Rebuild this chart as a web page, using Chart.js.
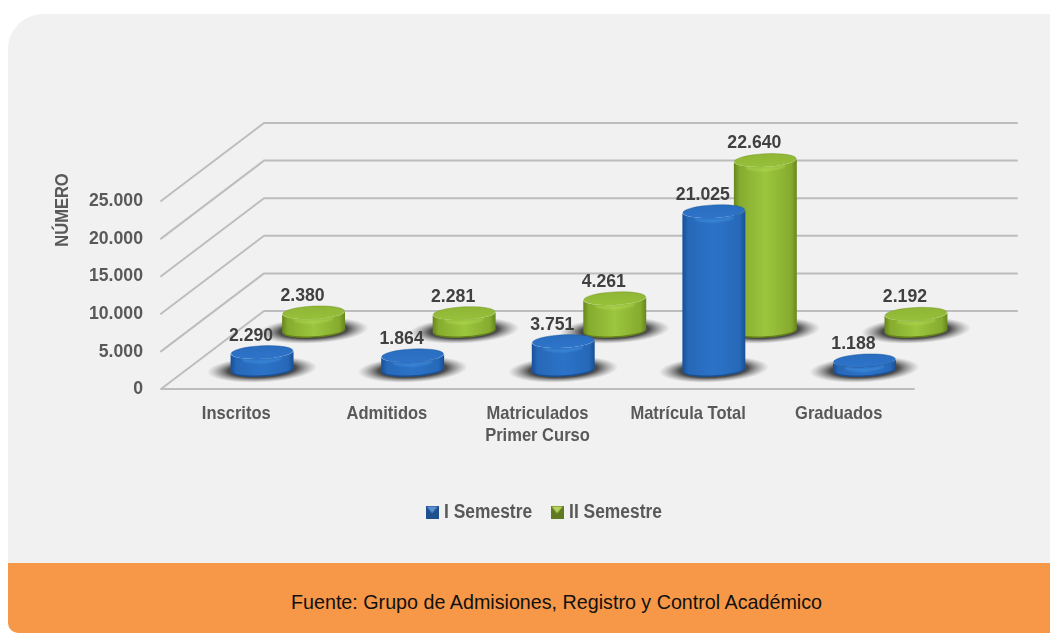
<!DOCTYPE html>
<html lang="es">
<head>
<meta charset="utf-8">
<title>Inscritos, admitidos y matriculados</title>
<script src="https://cdn.jsdelivr.net/npm/chart.js@4"></script>
<style>
html,body{margin:0;padding:0;background:#fff;width:1050px;height:633px;overflow:hidden}
#panel{position:absolute;left:8px;top:14px;width:1042px;height:549px;background:#f1f1f1;border-top-left-radius:35px}
#foot{position:absolute;left:8px;top:563px;width:1042px;height:70px;background:#f79848;border-bottom-left-radius:10px;
 font:21px "Liberation Sans",sans-serif;color:#111;}
#foot span{position:absolute;left:283px;top:27px;white-space:nowrap;transform:scaleX(.938);transform-origin:left center}
#wrap{position:absolute;left:0;top:0;width:1050px;height:633px}
</style>
</head>
<body>
<div id="panel"></div>
<div id="foot"><span>Fuente: Grupo de Admisiones, Registro y Control Académico</span></div>
<div id="wrap"><canvas id="c" width="1050" height="633"></canvas></div>
<script>
const categories = ["Inscritos", "Admitidos", ["Matriculados", "Primer Curso"], "Matrícula Total", "Graduados"];
const seriesNames = ["I Semestre", "II Semestre"];
const semesterI  = [2290, 1864, 3751, 21025, 1188];
const semesterII = [2380, 2281, 4261, 22640, 2192];
const yAxisTitle = "NÚMERO";
const yMax = 25000, yStep = 5000;

const FONT = '"Liberation Sans",sans-serif';
const TEXT = '#595959', LABEL = '#404040';
const DEPTH_X = 103, DEPTH_Y = 78;
const seriesDepth = [0.25, 0.75];
const RX = 31.5, RY = 6.5, TILT = -0.05;
const palettes = [
  {edge:'#174f96', side:'#2768b8', mid:'#2b73c8', top:'#2a6dbf', front:'#2d74ca', rim:'rgba(27,85,153,.6)', hi:'rgba(80,160,235,.5)', low:'#1a4f92', legend:['#5b8fd0','#1f4f8c']},
  {edge:'#66861c', side:'#86ab2e', mid:'#9cc63e', top:'#8fb636', front:'#97c03a', rim:'rgba(111,144,32,.6)', hi:'rgba(190,225,95,.5)', low:'#648019', legend:['#b5d35c','#5f7a22']}
];
const fmt = v => String(v).replace(/\B(?=(\d{3})+$)/g, '.');

function legendIcon(p){
  const s = 13, cv = document.createElement('canvas');
  cv.width = s; cv.height = s;
  const g = cv.getContext('2d');
  g.fillStyle = p.legend[1]; g.fillRect(0,0,s,s);
  g.fillStyle = p.legend[0];
  g.beginPath(); g.moveTo(1,1); g.lineTo(s-1,1); g.lineTo(s/2,s*0.6); g.closePath(); g.fill();
  return cv;
}
const icons = palettes.map(legendIcon);

// The reference uses a condensed face: narrow the installed sans horizontally.
const canvas = document.getElementById('c');
const c2d = canvas.getContext('2d');
const narrow = t => /^[\d.]+$/.test(t) ? 0.93 : 0.87;
const rawFill = c2d.fillText.bind(c2d), rawMeasure = c2d.measureText.bind(c2d);
c2d.fillText = function(t, x, y){
  c2d.save(); c2d.translate(x, y); c2d.scale(narrow(String(t)), 1);
  rawFill(t, 0, 0); c2d.restore();
};
c2d.measureText = function(t){
  const m = rawMeasure(t);
  return {width: m.width * narrow(String(t)), actualBoundingBoxAscent: m.actualBoundingBoxAscent, actualBoundingBoxDescent: m.actualBoundingBoxDescent};
};

const scenePlugin = {
  id:'scene',
  afterLayout(chart){
    const l = chart.legend, w = l.right - l.left;
    l.top = 479; l.bottom = 479 + l.height;
    l.left = 546 - w/2; l.right = 546 + w/2;
  },
  beforeDatasetsDraw(chart){
    const {ctx, scales:{x, y}} = chart;
    const L = x.left, R = x.right;
    ctx.save();
    ctx.lineCap = 'round'; ctx.lineJoin = 'round';
    y.ticks.forEach((t, i) => {
      const py = y.getPixelForTick(i);
      ctx.beginPath();
      if (t.value === 0) { ctx.moveTo(R, py); ctx.lineTo(L, py); } else ctx.moveTo(L, py);
      ctx.lineTo(L + DEPTH_X, py - DEPTH_Y);
      ctx.lineTo(R + DEPTH_X, py - DEPTH_Y);
      ctx.strokeStyle = '#bdbdbd'; ctx.lineWidth = 2; ctx.stroke();
    });
    ctx.restore();
    ctx.save();
    ctx.translate(63, 210); ctx.rotate(-Math.PI/2);
    ctx.font = 'bold 19px ' + FONT; ctx.fillStyle = TEXT;
    ctx.textAlign = 'center'; ctx.textBaseline = 'middle';
    ctx.fillText(yAxisTitle, 0, 0);
    ctx.restore();
  },
  afterDatasetDraw(chart, args){
    const {ctx} = chart, i = args.index, p = palettes[i];
    const dx = DEPTH_X * seriesDepth[i], dy = DEPTH_Y * seriesDepth[i];
    args.meta.data.forEach(bar => drawShadow(ctx, bar.x + dx, bar.base - dy));
    args.meta.data.forEach((bar, k) => {
      const cx = bar.x + dx, by = bar.base - dy, ty = bar.y - dy;
      drawCylinder(ctx, cx, by, ty, p);
      ctx.save();
      ctx.font = 'bold 19px ' + FONT; ctx.fillStyle = LABEL;
      ctx.textAlign = 'center'; ctx.textBaseline = 'middle';
      ctx.fillText(fmt(chart.data.datasets[i].data[k]), cx - 11, ty - RY - 10.5);
      ctx.restore();
    });
  }
};

function drawShadow(ctx, cx, by){
  ctx.save();
  ctx.translate(cx, by); ctx.rotate(TILT); ctx.scale(55, 13);
  const g = ctx.createRadialGradient(0,0,0,0,0,1);
  g.addColorStop(0,'rgba(20,20,20,.95)');
  g.addColorStop(0.62,'rgba(35,35,35,.8)');
  g.addColorStop(1,'rgba(110,110,110,0)');
  ctx.fillStyle = g;
  ctx.beginPath(); ctx.arc(0,0,1,0,Math.PI*2); ctx.fill();
  ctx.restore();
}

function drawCylinder(ctx, cx, by, ty, p){
  const sx = RX*Math.cos(TILT), sy = RX*Math.sin(TILT);
  ctx.save();
  ctx.filter = 'blur(0.6px)';
  const g = ctx.createLinearGradient(cx-RX,0,cx+RX,0);
  g.addColorStop(0,p.edge); g.addColorStop(0.09,p.side); g.addColorStop(0.5,p.mid);
  g.addColorStop(0.91,p.side); g.addColorStop(1,p.edge);
  ctx.beginPath();
  ctx.moveTo(cx+sx, ty+sy);
  ctx.lineTo(cx+sx, by+sy);
  ctx.ellipse(cx, by, RX, RY, TILT, 0, Math.PI);
  ctx.lineTo(cx-sx, ty-sy);
  ctx.ellipse(cx, ty, RX, RY, TILT, Math.PI, 0, true);
  ctx.closePath();
  ctx.fillStyle = g; ctx.fill();
  ctx.beginPath();
  ctx.ellipse(cx, by, RX-0.5, RY, TILT, 0.15, Math.PI-0.15);
  ctx.strokeStyle = p.low; ctx.lineWidth = 1.4; ctx.stroke();
  const c = ctx.createLinearGradient(0, ty-RY, 0, ty+RY);
  c.addColorStop(0, p.top); c.addColorStop(1, p.front);
  ctx.beginPath();
  ctx.ellipse(cx, ty, RX-0.5, RY, TILT, 0, Math.PI*2);
  ctx.fillStyle = c; ctx.fill();
  ctx.strokeStyle = p.rim; ctx.lineWidth = .7;
  ctx.beginPath();
  ctx.ellipse(cx, ty, RX-0.5, RY, TILT, Math.PI, Math.PI*2);
  ctx.stroke();
  ctx.filter = 'blur(1px)';
  ctx.beginPath();
  ctx.ellipse(cx, ty+3, RX-9, RY, TILT, 0.55, Math.PI-0.55);
  ctx.strokeStyle = p.hi; ctx.lineWidth = 2.4; ctx.stroke();
  ctx.restore();
}

new Chart(canvas, {
  type:'bar',
  data:{
    labels:categories,
    datasets:[
      {label:seriesNames[0], data:semesterI,  backgroundColor:'rgba(0,0,0,0)', grouped:false},
      {label:seriesNames[1], data:semesterII, backgroundColor:'rgba(0,0,0,0)', grouped:false}
    ]
  },
  options:{
    responsive:false, animation:false,
    layout:{padding:{top:201,right:136,left:0,bottom:0}},
    plugins:{
      tooltip:{enabled:false},
      legend:{
        position:'bottom',
        labels:{
          usePointStyle:true, boxWidth:4, padding:23,
          color:TEXT, font:{family:FONT, size:20, weight:'bold'},
          generateLabels:c => c.data.datasets.map((d,i) => ({text:d.label, pointStyle:icons[i], fontColor:TEXT, datasetIndex:i, lineWidth:0}))
        }
      }
    },
    scales:{
      x:{
        grid:{display:false, drawTicks:false}, border:{display:false},
        ticks:{color:TEXT, font:{family:FONT, size:19, weight:'bold'}, padding:13, maxRotation:0, autoSkip:false},
        afterFit(s){ s.height = 244 - s.chart.legend.height; }
      },
      y:{
        min:0, max:yMax,
        grid:{display:false, drawTicks:false}, border:{display:false},
        ticks:{stepSize:yStep, color:TEXT, font:{family:FONT, size:19, weight:'bold'}, padding:18, callback:v => fmt(v)},
        afterFit(s){ s.width = 161; }
      }
    }
  },
  plugins:[scenePlugin]
});
</script>
</body>
</html>
